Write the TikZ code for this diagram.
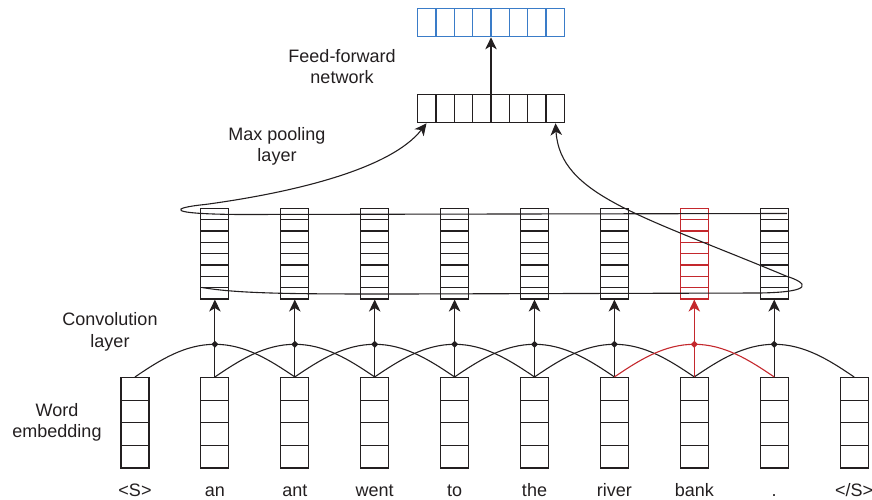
\documentclass[tikz,border=0pt]{standalone}
\usepackage{fontspec}
\setmainfont{Liberation Sans}
\usetikzlibrary{arrows.meta,shapes.geometric}
\definecolor{ink}{RGB}{35,31,32}
\definecolor{hred}{RGB}{196,40,45}
\definecolor{hblue}{RGB}{58,124,200}
\begin{document}
\begin{tikzpicture}[x=1pt,y=-1pt,line width=1.1pt,draw=ink,text=ink,
  font=\fontsize{18}{21.6}\selectfont,
  wbox/.style={draw,rectangle,minimum width=28pt,minimum height=90.5pt,inner sep=0pt},
  cbox/.style={draw,rectangle,minimum width=28pt,minimum height=90.7pt,inner sep=0pt},
  hbox/.style={draw,rectangle,minimum width=146.6pt,minimum height=28.6pt,inner sep=0pt},
  dotn/.style={diamond,fill=ink,draw=none,inner sep=0pt,minimum size=7.5pt},
  arr/.style={-{Stealth[length=12pt,width=11.5pt,inset=3.5pt]}},
  lbl/.style={align=center,inner sep=0pt},
  word/.style={anchor=base,inner sep=0pt}]
\useasboundingbox (0,0) rectangle (872,500);

% word embedding boxes and words
\foreach \i/\t in {0/{<S>},1/an,2/ant,3/went,4/to,5/the,6/river,7/bank,8/.,9/{</S>}}{
  \pgfmathsetmacro\xx{135+79.9*\i}
  \node[wbox] (w\i) at (\xx,422.75) {};
  \foreach \k in {1,2,3}{
    \draw (\xx-14,377.5+22.625*\k) -- (\xx+14,377.5+22.625*\k);
  }
  \node[word] (t\i) at (\xx,496.5) {\t};
}

% convolution output boxes
\foreach \i in {1,...,8}{
  \pgfmathsetmacro\xx{135+79.9*\i}
  \ifnum\i=7
    \node[cbox,draw=hred] (c\i) at (\xx,253.65) {};
    \foreach \k in {1,...,7}{\draw[hred] (\xx-14,208.3+11.34*\k) -- (\xx+14,208.3+11.34*\k);}
  \else
    \node[cbox] (c\i) at (\xx,253.65) {};
    \foreach \k in {1,...,7}{\draw (\xx-14,208.3+11.34*\k) -- (\xx+14,208.3+11.34*\k);}
  \fi
  \coordinate (d\i) at (\xx,344.3);
}

% convolution arcs (black)
\foreach \i in {1,...,6,8}{
  \pgfmathtruncatemacro\a{\i-1}
  \pgfmathtruncatemacro\b{\i+1}
  \draw (w\a.north) .. controls +(25,-17) and +(-30,0) .. (d\i)
        .. controls +(30,0) and +(-25,-17) .. (w\b.north);
  \draw (w\i.north) -- (d\i);
  \draw[arr] (d\i) -- (c\i.south);
}
% highlighted (red) window
\draw[hred] (w6.north) .. controls +(25,-17) and +(-30,0) .. (d7)
      .. controls +(30,0) and +(-25,-17) .. (w8.north);
\draw[hred] (w7.north) -- (d7);
\draw[hred,arr] (d7) -- (c7.south);

% dots
\foreach \i in {1,...,6,8}{\node[dotn] (dn\i) at (d\i) {};}
\node[dotn,fill=hred] (dn7) at (d7) {};

% max pooling layer
\node[hbox] (mp) at (491,108.65) {};
\foreach \k in {1,...,7}{\draw (417.7+18.33*\k,94.3) -- (417.7+18.33*\k,123);}
% feed-forward output
\node[hbox,draw=hblue] (ff) at (491,22.5) {};
\foreach \k in {1,...,7}{\draw[hblue] (417.7+18.33*\k,8.3) -- (417.7+18.33*\k,36.7);}
\draw[arr] (mp.north) -- (ff.south);

% max pooling connectors
\coordinate (mpL) at (426.5,123.3);
\coordinate (mpR) at (555.5,123.3);
\coordinate (topR) at (787,213.5);
\coordinate (botL) at (202,287.5);
\draw[arr] (topR) -- (240,214.5) .. controls (165,214) and (170,208) .. (205,204.5)
      .. controls (290,193) and (390,170) .. (mpL);
\draw[arr] (botL) .. controls (240,294) and (300,294) .. (400,294) -- (760,293)
      .. controls (815,292) and (808,283) .. (786,276)
      .. controls (640,215) and (560,195) .. (mpR);

% labels
\node[lbl] (lff) at (342,66.7) {Feed-forward\\network};
\node[lbl] (lmp) at (277,146.4) {Max pooling\\layer};
\node[lbl] (lconv) at (110,332) {Convolution\\layer};
\node[lbl] (lwe) at (57,422.5) {Word\\embedding};
\end{tikzpicture}
\end{document}
